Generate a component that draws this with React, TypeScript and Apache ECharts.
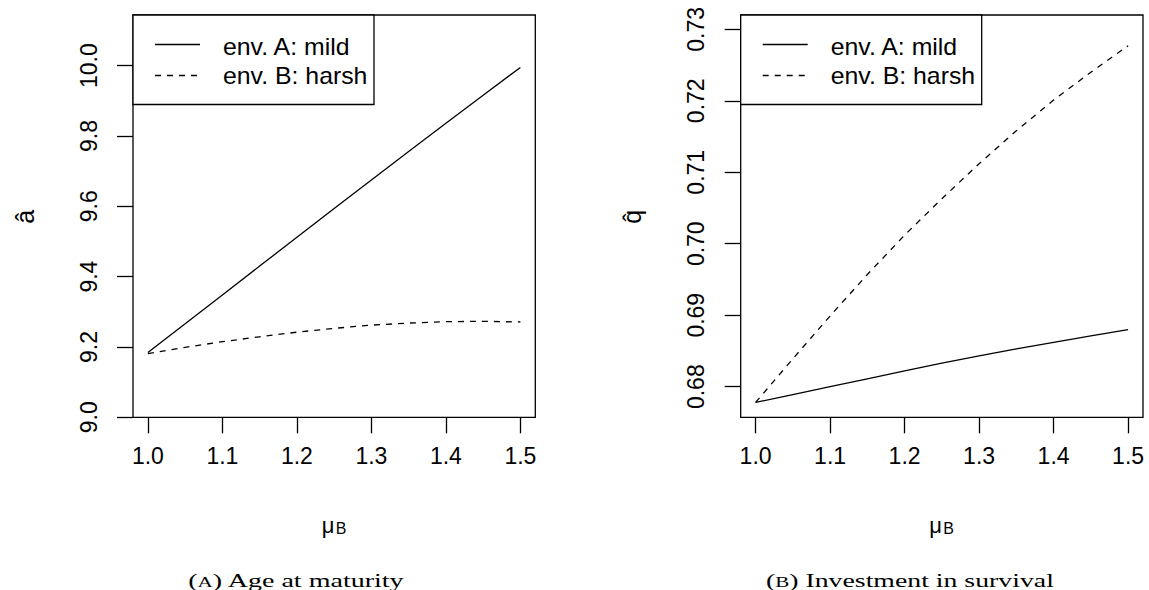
import React, { useEffect, useRef } from "react";
import * as echarts from "echarts";

// ---- data ----
const MU_B = [1.0, 1.05, 1.1, 1.15, 1.2, 1.25, 1.3, 1.35, 1.4, 1.45, 1.5];
const AGE_MILD = [9.184, 9.266, 9.348, 9.43, 9.512, 9.594, 9.675, 9.756, 9.836, 9.916, 9.995];
const AGE_HARSH = [9.181, 9.199, 9.215, 9.229, 9.242, 9.253, 9.262, 9.268, 9.272, 9.273, 9.271];
const Q_MILD = [0.6778, 0.6789, 0.68, 0.6811, 0.6822, 0.6833, 0.6843, 0.6853, 0.6862, 0.6871, 0.688];
const Q_HARSH = [0.6778, 0.6839, 0.6899, 0.6957, 0.7012, 0.7063, 0.7112, 0.7158, 0.7201, 0.724, 0.7277];
const X_TICKS = [1.0, 1.1, 1.2, 1.3, 1.4, 1.5];
const AGE_TICKS = [9.0, 9.2, 9.4, 9.6, 9.8, 10.0];
const Q_TICKS = [0.68, 0.69, 0.7, 0.71, 0.72, 0.73];
const LEGEND_LABELS = ["env. A: mild", "env. B: harsh"];
const CAPTIONS = [
  { tag: "A", text: " Age at maturity" },
  { tag: "B", text: " Investment in survival" },
];

const SANS = "Liberation Sans, Arial, Helvetica, sans-serif";
const SERIF_FAMILY = "Liberation Serif";
const FS = 23;

const pairs = (xs: number[], ys: number[]) => xs.map((x, i) => [x, ys[i]]);

function measure(text: string, size: number, family: string): number {
  const c = document.createElement("canvas").getContext("2d");
  if (!c) return text.length * size * 0.45;
  c.font = `${size}px "${family}", serif`;
  return c.measureText(text).width;
}

export default function App() {
  const ref = useRef<HTMLDivElement>(null);
  useEffect(() => {
    if (!ref.current) return;
    const chart = echarts.init(ref.current, undefined, { renderer: "svg" });

    const panels = [
      { left: 133, ymin: 9.0, ymax: 10.144, ticks: AGE_TICKS, dec: 1, mild: AGE_MILD, harsh: AGE_HARSH },
      { left: 740.7, ymin: 0.67572, ymax: 0.732, ticks: Q_TICKS, dec: 2, mild: Q_MILD, harsh: Q_HARSH },
    ];
    const W = 402.3;
    const TOP = 15;
    const H = 402.3;

    const grid = panels.map((p) => ({
      left: p.left,
      top: TOP,
      width: W,
      height: H,
      show: true,
      borderColor: "#000",
      borderWidth: 1.3,
      backgroundColor: "transparent",
    }));

    const xAxis = panels.map((_, i) => ({
      type: "value",
      gridIndex: i,
      min: 0.98,
      max: 1.52,
      axisLine: { show: false },
      splitLine: { show: false },
      axisTick: { show: true, length: 16, lineStyle: { color: "#000", width: 1.3 }, customValues: X_TICKS },
      axisLabel: {
        show: true,
        customValues: X_TICKS,
        margin: 27,
        color: "#000",
        fontSize: FS,
        fontFamily: SANS,
        formatter: (v: number) => v.toFixed(1),
      },
    }));

    const yAxis = panels.map((p, i) => ({
      type: "value",
      gridIndex: i,
      min: p.ymin,
      max: p.ymax,
      axisLine: { show: false },
      splitLine: { show: false },
      axisTick: { show: true, length: 16, lineStyle: { color: "#000", width: 1.3 }, customValues: p.ticks },
      axisLabel: {
        show: true,
        customValues: p.ticks,
        rotate: 90,
        margin: 33,
        color: "#000",
        fontSize: FS,
        fontFamily: SANS,
        formatter: (v: number) => v.toFixed(p.dec),
      },
    }));

    const series: any[] = [];
    panels.forEach((p, i) => {
      series.push({
        type: "line",
        name: LEGEND_LABELS[0],
        xAxisIndex: i,
        yAxisIndex: i,
        data: pairs(MU_B, p.mild),
        symbol: "none",
        lineStyle: { color: "#000", width: 1.3, type: "solid" },
      });
      series.push({
        type: "line",
        name: LEGEND_LABELS[1],
        xAxisIndex: i,
        yAxisIndex: i,
        data: pairs(MU_B, p.harsh),
        symbol: "none",
        lineStyle: { color: "#000", width: 1.3, type: [6, 6] },
      });
    });

    const graphic: any[] = [];
    const yLabels = ["\u00e2", "q\u0302"];
    panels.forEach((p, i) => {
      const cx = p.left + W / 2;
      // legend box
      graphic.push({
        type: "rect",
        shape: { x: p.left, y: TOP, width: 241, height: 89.5 },
        style: { fill: "#fff", stroke: "#000", lineWidth: 1.3 },
        z: 100,
      });
      graphic.push({
        type: "line",
        shape: { x1: p.left + 22, y1: 44.5, x2: p.left + 67, y2: 44.5 },
        style: { stroke: "#000", lineWidth: 1.3 },
        z: 101,
      });
      graphic.push({
        type: "line",
        shape: { x1: p.left + 22, y1: 75.5, x2: p.left + 67, y2: 75.5 },
        style: { stroke: "#000", lineWidth: 1.3, lineDash: [6, 6] },
        z: 101,
      });
      LEGEND_LABELS.forEach((t, k) => {
        graphic.push({
          type: "text",
          x: p.left + 90,
          y: k === 0 ? 46.5 : 75.5,
          scaleX: 1.08,
          style: { text: t, fill: "#000", font: `${FS}px ${SANS}`, align: "left", verticalAlign: "middle" },
          z: 101,
        });
      });
      // y axis title
      graphic.push({
        type: "text",
        x: p.left - 108.5,
        y: 216.7,
        rotation: Math.PI / 2,
        style: { text: yLabels[i], fill: "#000", font: `25px ${SANS}`, align: "center", verticalAlign: "middle" },
      });
      // x axis title mu_B
      graphic.push({
        type: "text",
        x: cx - 12.5,
        y: 525,
        style: { text: "\u03bc", fill: "#000", font: `22px ${SANS}`, align: "left", verticalAlign: "middle" },
      });
      graphic.push({
        type: "text",
        x: cx + 1.5,
        y: 528.5,
        style: { text: "B", fill: "#000", font: `16px ${SANS}`, align: "left", verticalAlign: "middle" },
      });
    });

    // captions: "(" + small-cap letter + ") text", fitted to the reference width
    const capCenters = [296.7, 910];
    const capWidths = [217, 288];
    const BIG = 18.5;
    const SMALL = 14;
    CAPTIONS.forEach((c, i) => {
      const parts = [
        { t: "(", s: BIG, yOff: 0 },
        { t: c.tag, s: SMALL, yOff: 1.6 },
        { t: ")" + c.text, s: BIG, yOff: 0 },
      ];
      const ws = parts.map((pt) => measure(pt.t, pt.s, SERIF_FAMILY));
      const total = ws.reduce((a, b) => a + b, 0);
      const sx = capWidths[i] / total;
      let x = capCenters[i] - capWidths[i] / 2;
      parts.forEach((pt, k) => {
        graphic.push({
          type: "text",
          x,
          y: 580.5 + pt.yOff,
          scaleX: sx,
          style: {
            text: pt.t,
            fill: "#000",
            fontSize: pt.s,
            fontFamily: SERIF_FAMILY,
            align: "left",
            verticalAlign: "middle",
          },
        });
        x += ws[k] * sx;
      });
    });

    chart.setOption({
      animation: false,
      backgroundColor: "#fff",
      grid,
      xAxis,
      yAxis,
      series,
      graphic,
    });
    return () => chart.dispose();
  }, []);

  return (
    <div
      ref={ref}
      style={{ position: "fixed", left: 0, top: 0, width: 1149, height: 590, background: "#fff" }}
    />
  );
}
